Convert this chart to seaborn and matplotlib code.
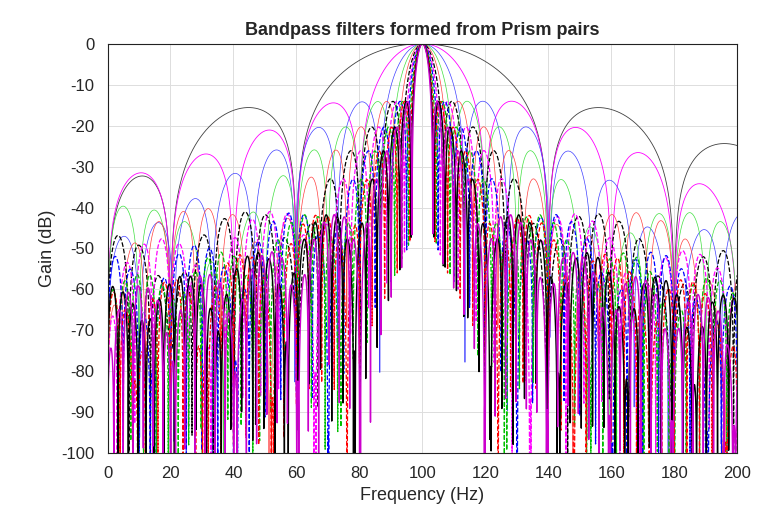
import numpy as np
import pandas as pd
import matplotlib
matplotlib.use("Agg")
import matplotlib.pyplot as plt
import seaborn as sns

# filter design parameters (first-null half widths in Hz) for each Prism pair
widths = [40, 20, 13.5, 10, 8, 6.6, 5.7, 5.0, 4.4, 4.0, 3.6, 3.3]
ratios = [4.0, 6.0, 6.0, 6.0, 6.0, 6.0, 6.0, 6.0, 6.0, 6.0, 6.0, 6.0]
colors = ["#404040", "#ff00ff", "#4040ff", "#40e040", "#ff4040", "#000000",
          "#ff00ff", "#0000ff", "#00c000", "#ff0000", "#000000", "#cc00cc"]
styles = ["-", "-", "-", "-", "-", "--", "--", "--", "--", "--", "-", "-"]
lws = [0.6, 0.6, 0.5, 0.5, 0.5, 0.9, 0.9, 0.9, 0.9, 0.9, 1.0, 1.0]
fc = 100.0

sns.set_theme(style="whitegrid")
plt.rcParams['font.family'] = ['Arial', 'Liberation Sans', 'DejaVu Sans']
plt.rcParams['axes.unicode_minus'] = False
fig, ax = plt.subplots(figsize=(7.68, 5.15), dpi=100)
f = np.linspace(0, 200, 6000)
for w, r, c, ls, lw in zip(widths, ratios, colors, styles, lws):
    h = (np.sinc((f - fc) / w) * np.sinc((f - fc) / (w * r))
         - np.sinc((f + fc) / w) * np.sinc((f + fc) / (w * r)))
    g = 20 * np.log10(np.abs(h) + 1e-9)
    g = np.clip(g, -101, 0)
    df = pd.DataFrame({"f": f, "g": g})
    sns.lineplot(data=df, x="f", y="g", ax=ax, color=c, linestyle=ls, lw=lw)

ax.set_xlim(0, 200)
ax.set_ylim(-100, 0)
ax.set_xticks(np.arange(0, 201, 20))
ax.set_yticks(np.arange(-100, 1, 10))
ax.set_xlabel("Frequency (Hz)", fontsize=13)
ax.set_ylabel("Gain (dB)", fontsize=13)
ax.set_title("Bandpass filters formed from Prism pairs", fontsize=13, fontweight="bold")
ax.tick_params(labelsize=12)
ax.grid(True, color="#dddddd", lw=0.7)
for s in ax.spines.values():
    s.set_color("#222222"); s.set_linewidth(0.8)
fig.subplots_adjust(left=0.14, right=0.96, bottom=0.12, top=0.915)
fig.savefig("out.png")
